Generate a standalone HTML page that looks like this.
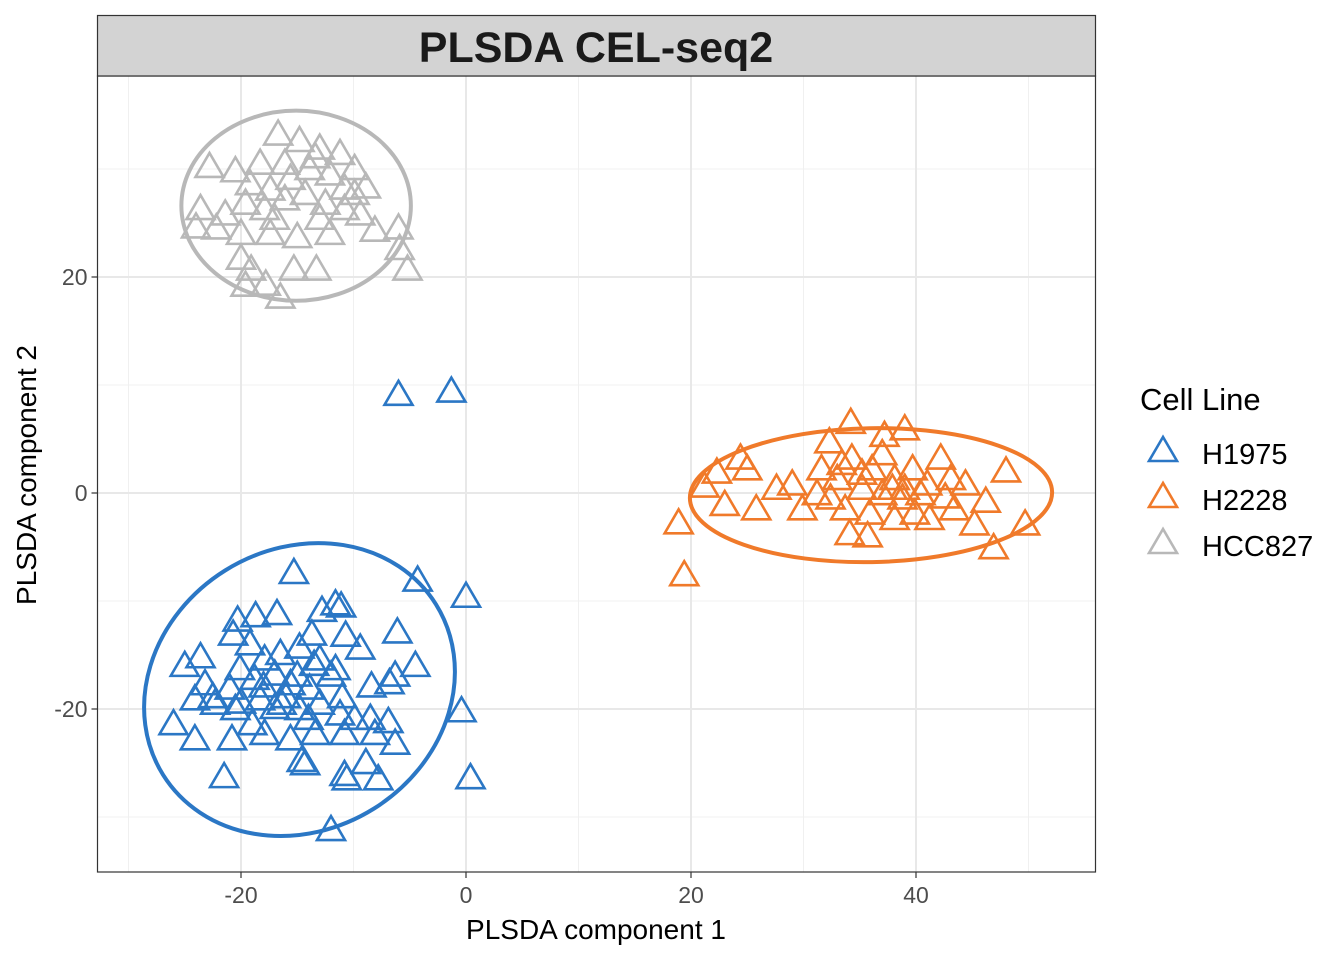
<!DOCTYPE html>
<html><head><meta charset="utf-8"><style>
body{margin:0;background:#fff;}
svg{display:block;font-family:"Liberation Sans",Arial,sans-serif;}
</style></head><body>
<svg id="chart" width="1344" height="960">
<rect x="0" y="0" width="1344" height="960" fill="#fff"/>
<g id="grid"></g>
<g id="ellipses"></g>
<g id="points"></g>
<rect x="97.5" y="76" width="998" height="796" fill="none" stroke="#333" stroke-width="1.2"/>
<rect x="97.5" y="15.5" width="998" height="60.5" fill="#d3d3d3" stroke="#333" stroke-width="1.2"/>
<text x="596" y="62" text-anchor="middle" font-size="43" font-weight="bold" fill="#1a1a1a">PLSDA CEL-seq2</text>
<g id="ticks"></g>
<text x="596" y="939" text-anchor="middle" font-size="28" fill="#000">PLSDA component 1</text>
<text transform="translate(36,475) rotate(-90)" text-anchor="middle" font-size="28" fill="#000">PLSDA component 2</text>
<g>
<text x="1140" y="410" font-size="31" fill="#000">Cell Line</text>
<g id="legend"></g>
</g>
</svg>
<script>
const xTicks=[-20,0,20,40];
const yTicks=[-20,0,20];
const xMinor=[-30,-10,10,30,50];
const yMinor=[-30,-10,10,30];
const groups=["H1975","H2228","HCC827"];
const colors=["#2b77c5","#f07a2a","#b8b8b8"];
const h1975X=[-15.3,-4.3,0,-11.6,-11.1,-20.3,-18.7,-16.8,-12.8,-6.1,-13.7,-10.7,-9.4,-20.7,-23.6,-25,-4.5,-6.3,-19.2,-17.9,-16.5,-14.8,-13,-11.6,-20.1,-18.8,-17,-15.6,-13.9,-21,-23.2,-24.1,-22.3,-20.5,-18.3,-16.4,-14.8,-13,-11.2,-9.9,-8.4,-6.8,-8.5,-6.9,-26,-24.1,-20.8,-17.9,-15.6,-13.4,-10.8,-8.1,-6.3,-0.4,-21.5,-14.6,-14.3,-10.8,-10.6,-8.9,-7.8,0.4,-12,-6,-1.3,-17,-20,-22.5,-12,-13.5,-18,-15,-16,-14,-19,-11];
const h1975Y=[-7.5,-8.2,-9.7,-10.4,-10.6,-11.9,-11.5,-11.3,-11,-13,-13.2,-13.3,-14.5,-13.2,-15.3,-16.1,-16.1,-17,-14.1,-15.5,-15,-14.4,-15.5,-16.4,-16.4,-17.3,-16.9,-17.8,-18.2,-18.2,-17.8,-19.2,-19.6,-20.1,-19.2,-19.6,-20.1,-19.6,-20.6,-21,-18,-17.7,-21,-21.3,-21.5,-22.9,-22.9,-22.4,-22.9,-22.4,-22.4,-22.4,-23.3,-20.3,-26.4,-24.9,-25.2,-26.2,-26.6,-25.1,-26.6,-26.5,-31.3,9,9.3,-20,-19.5,-19,-17,-16,-18,-17,-19,-21,-21.5,-19];
const h2228X=[34.2,39,37.2,32.3,24.4,22.3,21.2,23,18.9,19.4,25,25.8,27.6,29,29.9,31.2,31.6,33,34.3,35.2,36.1,37,38.1,38.8,39.7,41,42.2,43.1,44.4,46.2,48,49.7,46.9,45.2,43.4,41.2,39.9,38.1,35.9,34.1,35.7,33.7,32.4,37,37.9,40.4,42.6,39,35.2,33.4];
const h2228Y=[6.4,5.8,5.2,4.6,3.1,1.8,0.5,-1.2,-2.9,-7.7,2.1,-1.6,0.3,0.7,-1.6,-0.2,2.1,1.2,3.1,0.3,2.1,3.5,1.2,-0.6,2.1,0.7,3.1,1.2,0.7,-0.9,1.9,-3,-5.2,-3,-1.6,-2.5,-2,-2.5,-2,-3.9,-4.1,-1.6,-0.6,-0.2,0.3,-0.2,-0.5,0.3,1.7,2.6];
const hcc827X=[-16.7,-14.8,-13,-11.2,-9.9,-8.9,-22.8,-20.5,-18.3,-19.2,-17.4,-15.6,-13.9,-12.1,-23.6,-21.4,-19.6,-17.9,-16.1,-14.3,-12.5,-10.8,-9.4,-24,-22.2,-20,-17.4,-15,-12.1,-8.1,-6,-5.9,-5.2,-20,-19.1,-19.6,-17.8,-16.5,-15.3,-13.3,-16.1,-13.4,-10.8,-17,-9.9,-13];
const hcc827Y=[33.1,32.5,31.8,31.3,29.9,28.2,30.1,29.7,30.4,28.5,28,29,29.9,29.4,26.2,25.7,26.7,26.2,27.1,27.6,26.7,26.2,25.7,24.5,24.4,23.9,23.9,23.6,23.9,24.2,24.4,22.5,20.6,21.6,20.6,19.1,19.2,18,20.6,20.6,30.4,31,28.1,25.3,27.6,25.3];
const ellCX=[-14.8,36,-15.1];
const ellCY=[-18.2,-0.2,26.6];
const ellRX=[14.3,16.1,10.2];
const ellRY=[13.0,6.2,8.8];
const ellAng=[-32,-1,0];

const NS="http://www.w3.org/2000/svg";
const sx=v=>466+v*11.25, sy=v=>493-v*10.8;
const L=97.5,R=1095.5,T=76,B=872;
function mk(tag,attrs,parent){const e=document.createElementNS(NS,tag);for(const k in attrs)e.setAttribute(k,attrs[k]);parent.appendChild(e);return e;}
const grid=document.getElementById('grid');
xMinor.forEach(v=>{const l=mk('line',{x1:sx(v),x2:sx(v),y1:T,y2:B,stroke:'#f0f0f0','stroke-width':1},grid);

});
yMinor.forEach(v=>{const l=mk('line',{x1:L,x2:R,y1:sy(v),y2:sy(v),stroke:'#f0f0f0','stroke-width':1},grid);

});
xTicks.forEach(v=>{const l=mk('line',{x1:sx(v),x2:sx(v),y1:T,y2:B,stroke:'#e8e8e8','stroke-width':2},grid);

});
yTicks.forEach(v=>{const l=mk('line',{x1:L,x2:R,y1:sy(v),y2:sy(v),stroke:'#e8e8e8','stroke-width':2},grid);

});
const ticks=document.getElementById('ticks');
xTicks.forEach(v=>{mk('line',{x1:sx(v),x2:sx(v),y1:B,y2:B+6,stroke:'#333','stroke-width':1.2},ticks);
const t=mk('text',{x:sx(v),y:B+31,'text-anchor':'middle','font-size':23,fill:'#4d4d4d'},ticks);t.textContent=v;

});
yTicks.forEach(v=>{mk('line',{x1:L-6,x2:L,y1:sy(v),y2:sy(v),stroke:'#333','stroke-width':1.2},ticks);
const t=mk('text',{x:L-10,y:sy(v)+8,'text-anchor':'end','font-size':23,fill:'#4d4d4d'},ticks);t.textContent=v;

});
const eg=document.getElementById('ellipses');
ellCX.forEach((c,i)=>{const e=mk('ellipse',{cx:sx(c),cy:sy(ellCY[i]),rx:ellRX[i]*11.25,ry:ellRY[i]*10.8,fill:'none',stroke:colors[i],'stroke-width':4,transform:`rotate(${ellAng[i]} ${sx(c)} ${sy(ellCY[i])})`},eg);

});
function tri(x,y,col,parent,name){const p=mk('polygon',{points:`${x},${y-15} ${x-14},${y+9} ${x+14},${y+9}`,fill:'none',stroke:col,'stroke-width':2.6,'stroke-linejoin':'miter'},parent);

return p;}
const pg=document.getElementById('points');
const sets=[[h1975X,h1975Y],[h2228X,h2228Y],[hcc827X,hcc827Y]];
[2,0,1].forEach(i=>{const[xs,ys]=sets[i];xs.forEach((x,j)=>tri(sx(x),sy(ys[j]),colors[i],pg,'point-'+groups[i].toLowerCase()));});
const lg=document.getElementById('legend');
groups.forEach((g,i)=>{const y=452+i*46;tri(1163,y,colors[i],lg,'legend-key-'+g.toLowerCase());
const t=mk('text',{x:1202,y:y+12,'font-size':29,fill:'#000'},lg);t.textContent=g;

});
</script>
</body></html>
